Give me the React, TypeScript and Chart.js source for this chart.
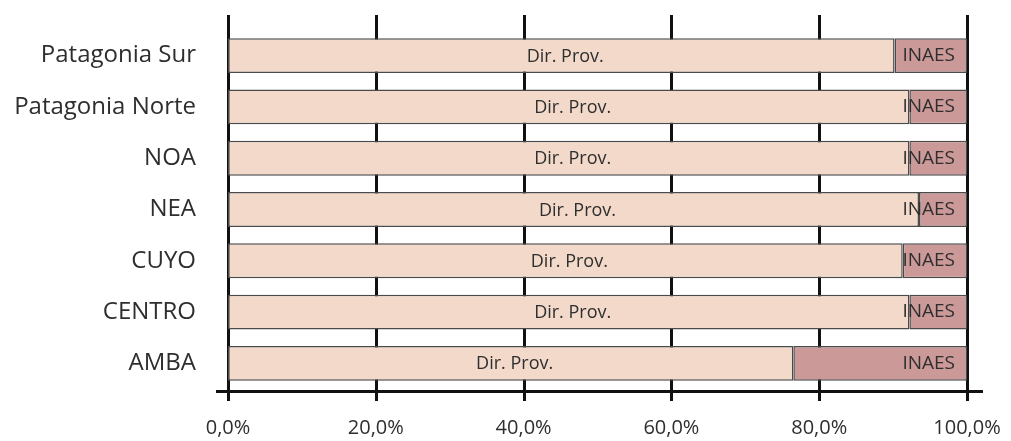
import React, { useEffect, useRef } from "react";
import { Chart, registerables } from "chart.js";

Chart.register(...registerables);

const categories = ["Patagonia Sur", "Patagonia Norte", "NOA", "NEA", "CUYO", "CENTRO", "AMBA"];
const dirProv = [90.2, 92.2, 92.2, 93.5, 91.3, 92.2, 76.5];
const inaes = [9.8, 7.8, 7.8, 6.5, 8.7, 7.8, 23.5];
const seriesNames = ["Dir. Prov.", "INAES"];
const xTicks = [0, 20, 40, 60, 80, 100];

const FONT = "'Open Sans', 'DejaVu Sans', sans-serif";

export default function App() {
  const ref = useRef<HTMLCanvasElement | null>(null);
  useEffect(() => {
    if (!ref.current) return;
    const axesPlugin = {
      id: "axesLines",
      beforeDatasetsDraw(chart: any) {
        const { ctx, scales } = chart;
        const xs = scales.x;
        const area = chart.chartArea;
        ctx.save();
        ctx.strokeStyle = "#111";
        ctx.lineWidth = 3;
        xTicks.forEach((t) => {
          const px = Math.round(xs.getPixelForValue(t)) + 0.5;
          ctx.beginPath();
          ctx.moveTo(px, area.top - 15);
          ctx.lineTo(px, area.bottom + 12);
          ctx.stroke();
        });
        const yb = Math.round(area.bottom + 2) + 0.5;
        ctx.beginPath();
        ctx.moveTo(area.left - 12, yb);
        ctx.lineTo(area.right + 16, yb);
        ctx.stroke();
        ctx.restore();
      },
      afterDatasetsDraw(chart: any) {
        const { ctx } = chart;
        ctx.save();
        ctx.fillStyle = "#2e2e2e";
        ctx.textBaseline = "middle";
        const m0 = chart.getDatasetMeta(0);
        const m1 = chart.getDatasetMeta(1);
        ctx.font = `18px ${FONT}`;
        m0.data.forEach((el: any) => {
          ctx.textAlign = "center";
          ctx.fillText(seriesNames[0], (el.x + el.base) / 2 + 4, el.y + 1);
        });
        ctx.font = `19px ${FONT}`;
        m1.data.forEach((el: any) => {
          ctx.textAlign = "right";
          ctx.fillText(seriesNames[1], el.x - 12, el.y);
        });
        ctx.restore();
      },
    };
    const chart = new Chart(ref.current, {
      type: "bar",
      data: {
        labels: categories,
        datasets: [
          {
            label: seriesNames[0],
            data: dirProv,
            backgroundColor: "#f2d9ca",
            borderColor: "#4a4a4a",
            borderWidth: 1.5,
            borderSkipped: false,
          },
          {
            label: seriesNames[1],
            data: inaes,
            backgroundColor: "#cc9999",
            borderColor: "#4a4a4a",
            borderWidth: 1.5,
            borderSkipped: false,
          },
        ],
      },
      options: {
        indexAxis: "y",
        animation: false,
        responsive: false,
        maintainAspectRatio: false,
        datasets: { bar: { categoryPercentage: 1, barPercentage: 0.68 } },
        layout: { padding: { top: 30, right: 44, left: 0, bottom: 0 } },
        plugins: { legend: { display: false }, tooltip: { enabled: false } },
        scales: {
          x: {
            stacked: true,
            min: 0,
            max: 100,
            afterBuildTicks: (s: any) => {
              s.ticks = xTicks.map((v) => ({ value: v }));
            },
            afterFit: (s: any) => {
              s.height = 52;
              s.paddingLeft = 0;
              s.paddingRight = 0;
            },
            grid: { display: false, drawTicks: false },
            border: { display: false },
            ticks: {
              padding: 27,
              color: "#2e2e2e",
              font: { family: FONT, size: 20 },
              callback: (v: any) => `${Number(v).toFixed(1).replace(".", ",")}%`,
            },
          },
          y: {
            stacked: true,
            afterFit: (s: any) => {
              s.width = 228;
              s.paddingTop = 0;
              s.paddingBottom = 0;
            },
            grid: { display: false, drawTicks: false },
            border: { display: false },
            ticks: {
              padding: 32,
              color: "#2e2e2e",
              font: { family: FONT, size: 24 },
            },
          },
        },
      },
      plugins: [axesPlugin],
    });
    return () => chart.destroy();
  }, []);
  return (
    <div style={{ position: "fixed", left: 0, top: 0, width: 1011, height: 441, background: "#fff" }}>
      <canvas ref={ref} width={1011} height={441} style={{ width: 1011, height: 441 }} />
    </div>
  );
}
